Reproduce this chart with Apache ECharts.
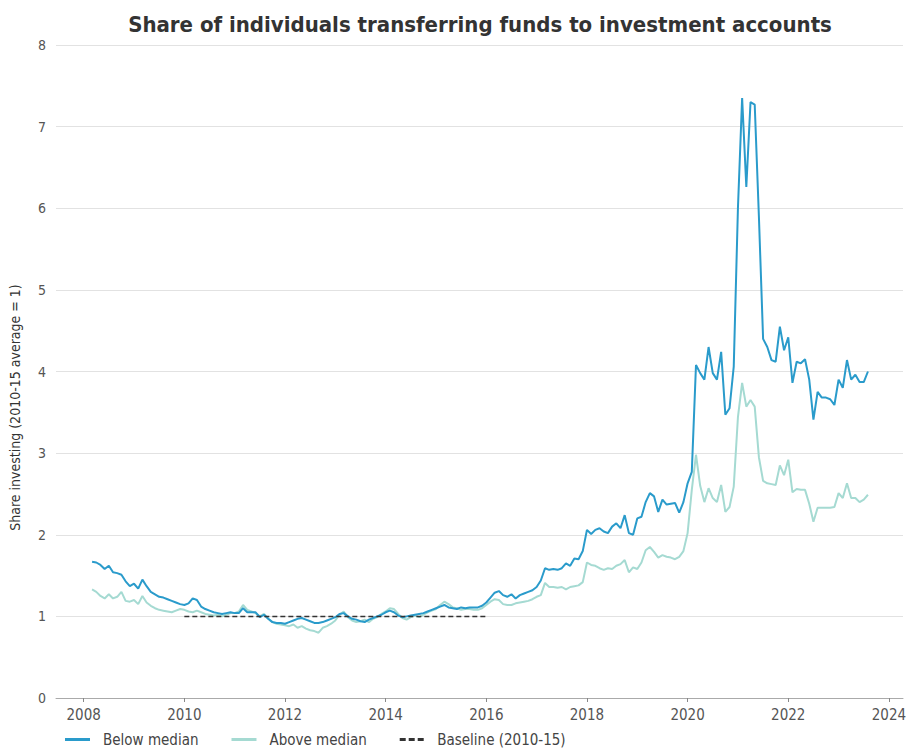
<!DOCTYPE html>
<html>
<head>
<meta charset="utf-8">
<script src="https://cdn.jsdelivr.net/npm/echarts@6/dist/echarts.min.js"></script>
<style>
html,body{margin:0;padding:0;background:#fff;}
#chart{width:909px;height:752px;}
</style>
</head>
<body>
<div id="chart"></div>
<script>
// Monthly series, first month March 2008
var startYear = 2008, startMonth = 3;
var belowMedian = [
1.67,1.66,1.63,1.58,1.62,1.54,1.53,1.51,1.43,1.37,1.40,1.34,1.45,1.37,1.30,1.27,1.24,1.23,1.21,1.19,1.17,1.15,
1.14,1.16,1.22,1.20,1.12,1.09,1.07,1.05,1.04,1.03,1.04,1.05,1.04,1.04,1.10,1.05,1.05,1.05,0.99,1.02,0.97,0.93,0.92,
0.92,0.91,0.93,0.95,0.97,0.98,0.96,0.94,0.92,0.92,0.93,0.95,0.97,0.99,1.03,1.04,1.00,0.97,0.96,0.94,0.93,0.96,0.98,1.00,1.02,1.05,1.07,1.05,1.01,0.99,1.00,1.01,1.02,1.03,1.04,1.06,1.08,1.10,1.12,1.14,1.11,1.10,1.09,1.11,1.10,
1.11,1.11,1.11,1.13,1.17,1.23,1.29,1.31,1.26,1.24,1.27,1.22,1.26,1.28,1.30,1.32,1.36,1.44,1.59,1.57,1.58,1.57,1.59,1.65,1.62,1.71,1.70,1.80,2.06,2.01,2.06,2.08,2.04,2.02,2.10,2.14,2.08,2.24,2.02,2.00,2.20,2.22,2.40,2.51,2.47,2.28,2.43,2.37,2.38,2.39,2.27,2.40,
2.63,2.77,4.08,3.98,3.90,4.30,3.98,3.90,4.24,3.47,3.55,4.06,6.00,7.35,6.26,7.30,7.27,5.90,4.40,4.30,4.14,4.12,4.55,4.26,4.42,3.86,4.12,4.10,4.15,3.90,3.41,3.75,3.68,3.68,3.66,3.59,3.90,3.80,4.14,3.90,3.96,3.87,3.87,4.00
];
var aboveMedian = [
1.33,1.30,1.25,1.22,1.27,1.22,1.24,1.30,1.19,1.18,1.20,1.15,1.25,1.17,1.13,1.10,1.08,1.07,1.06,1.05,1.07,1.09,
1.08,1.06,1.05,1.07,1.05,1.03,1.02,1.01,1.02,1.00,1.02,1.04,1.04,1.06,1.14,1.08,1.06,1.04,1.00,1.03,0.97,0.93,0.91,
0.90,0.89,0.88,0.90,0.86,0.88,0.85,0.83,0.82,0.80,0.86,0.88,0.91,0.95,1.02,1.06,0.99,0.95,0.93,0.94,0.96,0.93,0.97,0.99,1.03,1.06,1.10,1.09,1.03,0.98,0.96,0.99,1.01,0.99,1.02,1.05,1.07,1.09,1.14,1.18,1.15,1.11,1.10,1.08,1.09,
1.09,1.08,1.08,1.10,1.14,1.18,1.21,1.20,1.15,1.14,1.14,1.16,1.17,1.18,1.19,1.21,1.24,1.26,1.41,1.36,1.36,1.35,1.36,1.33,1.36,1.37,1.38,1.42,1.66,1.63,1.62,1.59,1.57,1.59,1.58,1.62,1.64,1.69,1.54,1.60,1.58,1.66,1.81,1.85,1.79,1.72,1.75,1.73,1.72,1.70,1.73,1.80,
2.02,2.55,2.98,2.60,2.40,2.57,2.45,2.40,2.61,2.28,2.34,2.59,3.44,3.86,3.57,3.65,3.57,2.95,2.66,2.63,2.62,2.61,2.85,2.73,2.92,2.52,2.56,2.55,2.55,2.38,2.16,2.33,2.33,2.33,2.33,2.34,2.51,2.45,2.63,2.45,2.45,2.40,2.43,2.49
];
var baselineYears = [2010, 2016];
var baselineValue = [1, 1];
var xTickYears = [2008,2010,2012,2014,2016,2018,2020,2022,2024];

function monthX(i){ return startYear + (startMonth - 1 + i) / 12; }
function pairs(arr){ return arr.map(function(v,i){ return [monthX(i), v]; }); }

var FONT = "'Liberation Sans Narrow','DejaVu Sans Condensed','Open Sans',sans-serif";
var DARK = '#2a9bcb', LIGHT = '#a5dad2';
var solidIcon = 'path://M0,0H25V3H0Z';
var dashIcon = 'path://M0,0H6V3H0Z M9,0H15V3H9Z M18,0H24V3H18Z';
var chart = echarts.init(document.getElementById('chart'), null, {renderer:'svg'});
chart.setOption({
  animation:false,
  backgroundColor:'#fff',
  title:{
    text:'Share of individuals transferring funds to investment accounts',
    left:475, top:8, textAlign:'center',
    textStyle:{fontFamily:FONT, fontSize:22, fontWeight:'bold', color:'#333'}
  },
  legend:{
    left:60, bottom:0, itemWidth:25, itemHeight:3, itemGap:33,
    textStyle:{fontFamily:FONT, fontSize:15, color:'#444', padding:[0,0,0,8]},
    data:[
      {name:'Below median', icon:solidIcon},
      {name:'Above median', icon:solidIcon},
      {name:'Baseline (2010-15)', icon:dashIcon}
    ]
  },
  grid:{left:51, right:4, top:45, bottom:54, containLabel:false},
  xAxis:{
    type:'value', min:2007.45, max:2024.28,
    axisLine:{show:true, lineStyle:{color:'#aaa', width:1}},
    axisTick:{show:true, customValues:xTickYears, length:4, lineStyle:{color:'#888'}},
    axisLabel:{customValues:xTickYears, fontFamily:FONT, fontSize:15, color:'#555', margin:9,
      formatter:function(v){return String(Math.round(v));}},
    splitLine:{show:false}
  },
  yAxis:{
    type:'value', min:0, max:8, interval:1,
    name:'Share investing (2010-15 average = 1)',
    nameLocation:'middle', nameGap:34, nameRotate:90,
    nameTextStyle:{fontFamily:FONT, fontSize:14, color:'#333', padding:[0,72,0,0]},
    axisLine:{show:false}, axisTick:{show:false},
    axisLabel:{fontFamily:FONT, fontSize:14, color:'#555', margin:10},
    splitLine:{lineStyle:{color:'#e2e2e2', width:1}}
  },
  series:[
    {name:'Above median', type:'line', data:pairs(aboveMedian), symbol:'none', z:2,
      lineStyle:{color:LIGHT, width:2}, itemStyle:{color:LIGHT}},
    {name:'Below median', type:'line', data:pairs(belowMedian), symbol:'none', z:3,
      lineStyle:{color:DARK, width:2}, itemStyle:{color:DARK}},
    {name:'Baseline (2010-15)', type:'line', symbol:'none', z:4,
      data:baselineYears.map(function(y,i){return [y, baselineValue[i]];}),
      lineStyle:{color:'#333', width:1.5, type:[5,3]}, itemStyle:{color:'#333'}}
  ]
});
</script>
</body>
</html>
